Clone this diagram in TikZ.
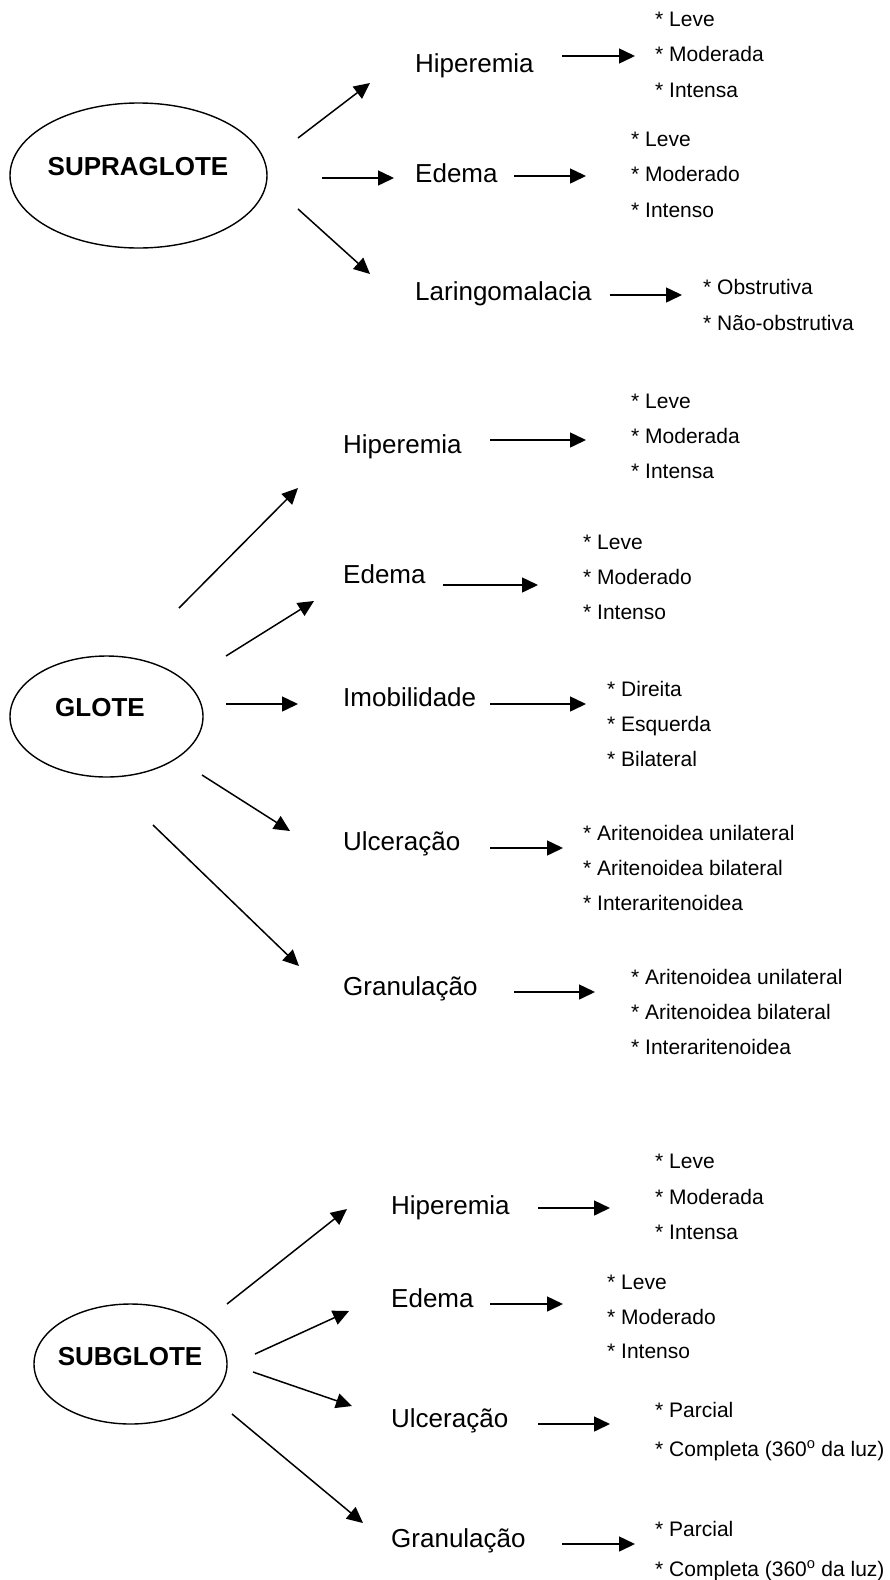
\documentclass[tikz,border=0pt]{standalone}
\usepackage{fontspec}
\setmainfont{Liberation Sans}
\usepackage{tikz}
\usetikzlibrary{arrows.meta}
\usetikzlibrary{shapes.geometric}

\begin{document}
\begin{tikzpicture}[x=1pt,y=-1pt,
                    seta/.style={-{Triangle[length=16pt,width=15pt]},line width=1.5pt},
                    elipse/.style={ellipse,draw,line width=1.4pt,inner sep=0pt},
                    titulo/.style={font=\fontsize{26}{31}\selectfont\bfseries,inner sep=0pt},
                    rotulo/.style={font=\fontsize{26}{31}\selectfont,anchor=base west,inner sep=0pt},
                    item/.style={font=\fontsize{21}{25}\selectfont,anchor=base west,inner sep=0pt}]
 \useasboundingbox (0,0) rectangle (890,1580);

 % SUPRAGLOTE
 \node[elipse,minimum width=257pt,minimum height=145pt] (sup) at (138.5,175.5) {};
 \node[titulo] (supT) at (138,167) {SUPRAGLOTE};
 \node[rotulo] (hipA) at (415,72)  {Hiperemia};
 \node[rotulo] (edeA) at (415,182) {Edema};
 \node[rotulo] (larA) at (415,300) {Laringomalacia};
 \node[item] (hipA1) at (655,26)   {* Leve};
 \node[item] (hipA2) at (655,61.5) {* Moderada};
 \node[item] (hipA3) at (655,97)   {* Intensa};
 \node[item] (edeA1) at (631,146)   {* Leve};
 \node[item] (edeA2) at (631,181.5) {* Moderado};
 \node[item] (edeA3) at (631,217)   {* Intenso};
 \node[item] (larA1) at (703,294) {* Obstrutiva};
 \node[item] (larA2) at (703,330) {* Não-obstrutiva};
 \coordinate (supo1) at (298,138); \coordinate (hipA-in) at (370,83);
 \coordinate (supo2) at (322,178); \coordinate (edeA-in) at (394,178);
 \coordinate (supo3) at (298,209); \coordinate (larA-in) at (370,274);
 \coordinate (hipA-out) at (562,56);  \coordinate (hipA-x) at (635,56);
 \coordinate (edeA-out) at (514,176); \coordinate (edeA-x) at (586,176);
 \coordinate (larA-out) at (610,295); \coordinate (larA-x) at (682,295);
 \draw[seta] (supo1) -- (hipA-in);
 \draw[seta] (supo2) -- (edeA-in);
 \draw[seta] (supo3) -- (larA-in);
 \draw[seta] (hipA-out) -- (hipA-x);
 \draw[seta] (edeA-out) -- (edeA-x);
 \draw[seta] (larA-out) -- (larA-x);

 % GLOTE
 \node[elipse,minimum width=193pt,minimum height=121pt] (glo) at (106.5,716.5) {};
 \node[titulo] (gloT) at (100,708) {GLOTE};
 \node[rotulo] (hipB) at (343,453) {Hiperemia};
 \node[rotulo] (edeB) at (343,583) {Edema};
 \node[rotulo] (imoB) at (343,706) {Imobilidade};
 \node[rotulo] (ulcB) at (343,850) {Ulceração};
 \node[rotulo] (graB) at (343,995) {Granulação};
 \node[item] (hipB1) at (631,408) {* Leve};
 \node[item] (hipB2) at (631,443) {* Moderada};
 \node[item] (hipB3) at (631,478) {* Intensa};
 \node[item] (edeB1) at (583,549) {* Leve};
 \node[item] (edeB2) at (583,584) {* Moderado};
 \node[item] (edeB3) at (583,619) {* Intenso};
 \node[item] (imoB1) at (607,696) {* Direita};
 \node[item] (imoB2) at (607,731) {* Esquerda};
 \node[item] (imoB3) at (607,766) {* Bilateral};
 \node[item] (ulcB1) at (583,840) {* Aritenoidea unilateral};
 \node[item] (ulcB2) at (583,875) {* Aritenoidea bilateral};
 \node[item] (ulcB3) at (583,910) {* Interaritenoidea};
 \node[item] (graB1) at (631,984)  {* Aritenoidea unilateral};
 \node[item] (graB2) at (631,1019) {* Aritenoidea bilateral};
 \node[item] (graB3) at (631,1054) {* Interaritenoidea};
 \coordinate (gloo1) at (179,608); \coordinate (hipB-in) at (298,488);
 \coordinate (gloo2) at (226,656); \coordinate (edeB-in) at (314,601);
 \coordinate (gloo3) at (226,704); \coordinate (imoB-in) at (298,704);
 \coordinate (gloo4) at (202,775); \coordinate (ulcB-in) at (290,831);
 \coordinate (gloo5) at (153,825); \coordinate (graB-in) at (299,966);
 \coordinate (hipB-out) at (490,440); \coordinate (hipB-x) at (586,440);
 \coordinate (edeB-out) at (443,585); \coordinate (edeB-x) at (538,585);
 \coordinate (imoB-out) at (490,704); \coordinate (imoB-x) at (586,704);
 \coordinate (ulcB-out) at (490,848); \coordinate (ulcB-x) at (563,848);
 \coordinate (graB-out) at (514,992); \coordinate (graB-x) at (595,992);
 \draw[seta] (gloo1) -- (hipB-in);
 \draw[seta] (gloo2) -- (edeB-in);
 \draw[seta] (gloo3) -- (imoB-in);
 \draw[seta] (gloo4) -- (ulcB-in);
 \draw[seta] (gloo5) -- (graB-in);
 \draw[seta] (hipB-out) -- (hipB-x);
 \draw[seta] (edeB-out) -- (edeB-x);
 \draw[seta] (imoB-out) -- (imoB-x);
 \draw[seta] (ulcB-out) -- (ulcB-x);
 \draw[seta] (graB-out) -- (graB-x);

 % SUBGLOTE
 \node[elipse,minimum width=193pt,minimum height=120pt] (sub) at (130.5,1364) {};
 \node[titulo] (subT) at (130,1356.5) {SUBGLOTE};
 \node[rotulo] (hipC) at (391,1214) {Hiperemia};
 \node[rotulo] (edeC) at (391,1307) {Edema};
 \node[rotulo] (ulcC) at (391,1427) {Ulceração};
 \node[rotulo] (graC) at (391,1547) {Granulação};
 \node[item] (hipC1) at (655,1168) {* Leve};
 \node[item] (hipC2) at (655,1204) {* Moderada};
 \node[item] (hipC3) at (655,1239) {* Intensa};
 \node[item] (edeC1) at (607,1289) {* Leve};
 \node[item] (edeC2) at (607,1324) {* Moderado};
 \node[item] (edeC3) at (607,1358) {* Intenso};
 \node[item] (ulcC1) at (655,1417) {* Parcial};
 \node[item] (ulcC2) at (655,1456) {* Completa (360\textsuperscript{o} da luz)};
 \node[item] (graC1) at (655,1536) {* Parcial};
 \node[item] (graC2) at (655,1576) {* Completa (360\textsuperscript{o} da luz)};
 \coordinate (subo1) at (227,1304); \coordinate (hipC-in) at (347,1209);
 \coordinate (subo2) at (255,1354); \coordinate (edeC-in) at (349,1311);
 \coordinate (subo3) at (253,1372); \coordinate (ulcC-in) at (352,1406);
 \coordinate (subo4) at (232,1414); \coordinate (graC-in) at (363,1523);
 \coordinate (hipC-out) at (538,1208); \coordinate (hipC-x) at (610,1208);
 \coordinate (edeC-out) at (490,1304); \coordinate (edeC-x) at (563,1304);
 \coordinate (ulcC-out) at (538,1424); \coordinate (ulcC-x) at (610,1424);
 \coordinate (graC-out) at (562,1544); \coordinate (graC-x) at (635,1544);
 \draw[seta] (subo1) -- (hipC-in);
 \draw[seta] (subo2) -- (edeC-in);
 \draw[seta] (subo3) -- (ulcC-in);
 \draw[seta] (subo4) -- (graC-in);
 \draw[seta] (hipC-out) -- (hipC-x);
 \draw[seta] (edeC-out) -- (edeC-x);
 \draw[seta] (ulcC-out) -- (ulcC-x);
 \draw[seta] (graC-out) -- (graC-x);
\end{tikzpicture}
\end{document}
